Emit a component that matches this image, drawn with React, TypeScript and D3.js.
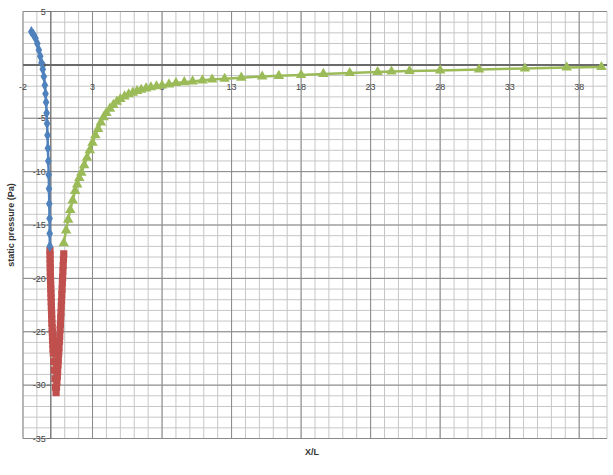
import React from "react";
import * as d3 from "d3";

const blueX = [-1.4, -1.25, -1.1, -0.97, -0.86, -0.76, -0.67, -0.58, -0.5, -0.43, -0.38, -0.34, -0.3, -0.27, -0.24, -0.21, -0.18, -0.15, -0.13, -0.11, -0.09, -0.08, -0.07];
const blueY = [3.1, 2.85, 2.5, 2.0, 1.4, 0.8, 0.2, -0.4, -1.1, -1.9, -2.7, -3.5, -4.5, -5.5, -6.6, -7.8, -9.0, -10.3, -11.6, -13.0, -14.4, -15.8, -17.0];

const redX = [-0.06, -0.055, -0.05, -0.045, -0.04, -0.035, -0.03, -0.02, -0.01, 0.0, 0.01, 0.02, 0.03, 0.04, 0.05, 0.06, 0.07, 0.08, 0.1, 0.11, 0.12, 0.13, 0.15, 0.16, 0.18, 0.21, 0.25, 0.3, 0.34, 0.38, 0.41, 0.44, 0.47, 0.49, 0.52, 0.54, 0.57, 0.59, 0.62, 0.64, 0.67, 0.69, 0.71, 0.73, 0.75, 0.77, 0.79, 0.81, 0.83, 0.85, 0.87, 0.89, 0.91, 0.93];
const redY = [-17.4, -17.8, -18.2, -18.6, -19.0, -19.4, -19.8, -20.2, -20.6, -21.0, -21.4, -21.8, -22.2, -22.6, -23.0, -23.4, -23.8, -24.2, -24.6, -25.0, -25.4, -25.8, -26.2, -26.6, -27.0, -27.8, -28.6, -29.4, -30.2, -30.7, -30.2, -29.7, -29.2, -28.7, -28.1, -27.6, -27.0, -26.5, -25.9, -25.4, -24.8, -24.3, -23.7, -23.2, -22.6, -22.1, -21.5, -21.0, -20.4, -19.9, -19.3, -18.8, -18.2, -17.7, -17.2, -16.7];

const greenX = [0.93, 1.1, 1.25, 1.4, 1.57, 1.75, 1.9, 2.05, 2.2, 2.4, 2.6, 2.8, 3.0, 3.2, 3.4, 3.6, 3.8, 4.0, 4.25, 4.5, 4.75, 5.0, 5.3, 5.6, 5.9, 6.2, 6.5, 6.85, 7.2, 7.6, 8.0, 8.5, 9.0, 9.6, 10.2, 10.9, 11.6, 12.5, 13.7, 15.2, 16.4, 18.0, 19.6, 21.5, 23.5, 24.5, 25.8, 28.0, 30.8, 34.1, 37.1, 39.6];
const greenY = [-16.7, -15.5, -14.5, -13.6, -12.7, -11.8, -11.2, -10.6, -10.1, -9.4, -8.7, -8.0, -7.3, -6.6, -6.0, -5.4, -4.9, -4.5, -4.1, -3.75, -3.45, -3.2, -2.95, -2.75, -2.6, -2.45, -2.33, -2.2, -2.1, -2.0, -1.93, -1.83, -1.7, -1.62, -1.55, -1.45, -1.37, -1.3, -1.2, -1.09, -1.03, -0.95, -0.85, -0.76, -0.67, -0.62, -0.58, -0.52, -0.43, -0.34, -0.24, -0.2];

const xTickLabels = [-2, 3, 8, 13, 18, 23, 28, 33, 38];
const yTickLabels = [5, 0, -5, -10, -15, -20, -25, -30, -35];

const X_MIN = -2, X_MAX = 40, Y_MIN = -35, Y_MAX = 5;

export default function App() {
  const W = 613, H = 475;
  const x = d3.scaleLinear().domain([X_MIN, X_MAX]).range([23, 607]);
  const y = d3.scaleLinear().domain([Y_MAX, Y_MIN]).range([11.5, 438.5]);

  const minorX = d3.range(X_MIN, X_MAX + 0.001, 1);
  const minorY = d3.range(Y_MIN, Y_MAX + 0.001, 1);

  const line = d3.line<[number, number]>().x(d => x(d[0])).y(d => y(d[1]));
  const zip = (a: number[], b: number[]) => a.map((v, i) => [v, b[i]] as [number, number]);
  const blue = zip(blueX, blueY);
  const red = zip(redX, redY);
  const green = zip(greenX, greenY);

  const diamond = d3.symbol().type(d3.symbolDiamond).size(38)()!;
  const square = d3.symbol().type(d3.symbolSquare).size(52)()!;
  const tri = d3.symbol().type(d3.symbolTriangle).size(48)()!;

  const cBlue = "#4f81bd", cRed = "#c0504d", cGreen = "#9bbb59";

  return (
    <svg width={W} height={H} style={{ position: "absolute", left: 0, top: 0, background: "#fff" }}
      fontFamily="'Liberation Sans', Arial, sans-serif">
      {minorX.map(v => (
        <line key={"mx" + v} x1={x(v)} x2={x(v)} y1={y(Y_MAX)} y2={y(Y_MIN)} stroke="#c6c6c6" strokeWidth={1} />
      ))}
      {minorY.map(v => (
        <line key={"my" + v} x1={x(X_MIN)} x2={x(X_MAX)} y1={y(v)} y2={y(v)} stroke="#c6c6c6" strokeWidth={1} />
      ))}
      {xTickLabels.map(v => (
        <line key={"Mx" + v} x1={x(v)} x2={x(v)} y1={y(Y_MAX)} y2={y(Y_MIN)} stroke="#8a8a8a" strokeWidth={1} />
      ))}
      {yTickLabels.map(v => (
        <line key={"My" + v} x1={x(X_MIN)} x2={x(X_MAX)} y1={y(v)} y2={y(v)} stroke="#8a8a8a" strokeWidth={1} />
      ))}
      <line x1={x(X_MIN)} x2={x(X_MAX)} y1={y(0)} y2={y(0)} stroke="#6a6a6a" strokeWidth={2} />
      <line x1={x(0)} x2={x(0)} y1={y(Y_MAX)} y2={y(Y_MIN)} stroke="#6a6a6a" strokeWidth={1.2} />
      {yTickLabels.map(v => (
        <line key={"yt" + v} x1={x(0) - 4} x2={x(0)} y1={y(v)} y2={y(v)} stroke="#6a6a6a" />
      ))}

      {yTickLabels.map(v => (
        <text key={"yl" + v} x={x(0) - 5} y={y(v)} dy="0.35em" textAnchor="end" fontSize={9} fill="#444">{v}</text>
      ))}
      {xTickLabels.map(v => (
        <text key={"xl" + v} x={x(v)} y={y(0) + 25} textAnchor="middle" fontSize={9} fill="#444">{v}</text>
      ))}

      <path d={line(green)!} fill="none" stroke={cGreen} strokeWidth={2.5} />
      {green.map((d, i) => (
        <path key={"g" + i} d={tri} transform={`translate(${x(d[0])},${y(d[1])})`} fill={cGreen} />
      ))}
      <path d={line(red)!} fill="none" stroke={cRed} strokeWidth={2.5} />
      {red.map((d, i) => (
        <path key={"r" + i} d={square} transform={`translate(${x(d[0])},${y(d[1])})`} fill={cRed} />
      ))}
      <path d={line(blue)!} fill="none" stroke={cBlue} strokeWidth={2.5} />
      {blue.map((d, i) => (
        <path key={"b" + i} d={diamond} transform={`translate(${x(d[0])},${y(d[1])})`} fill={cBlue} />
      ))}

      <text transform={`translate(14,${(y(Y_MAX) + y(Y_MIN)) / 2}) rotate(-90)`} textAnchor="middle" fontSize={9} fontWeight="bold" fill="#333">
        static pressure (Pa)
      </text>
      <text x={312} y={455} textAnchor="middle" fontSize={9} fontWeight="bold" fill="#333">X/L</text>
    </svg>
  );
}
